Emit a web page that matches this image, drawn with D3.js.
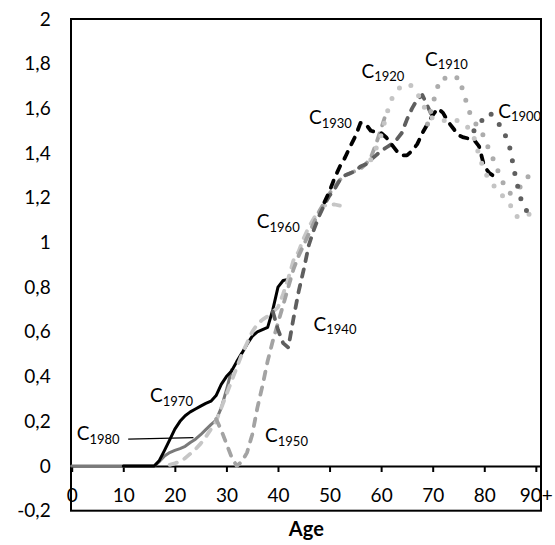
<!DOCTYPE html>
<html>
<head>
<meta charset="utf-8">
<script src="https://cdn.jsdelivr.net/npm/d3@7"></script>
<style>
  html, body { margin: 0; padding: 0; background: #fff; }
  svg { display: block; font-family: Lato, "Open Sans", sans-serif; }
</style>
</head>
<body>
<svg id="chart" width="555" height="545"></svg>
<script>
// ---------------- data ----------------
const xTicks = [0, 10, 20, 30, 40, 50, 60, 70, 80, 90];
const xTickLabels = ["0", "10", "20", "30", "40", "50", "60", "70", "80", "90+"];
const yTicks = [-0.2, 0, 0.2, 0.4, 0.6, 0.8, 1, 1.2, 1.4, 1.6, 1.8, 2];
const yTickLabels = ["-0,2", "0", "0,2", "0,4", "0,6", "0,8", "1", "1,2", "1,4", "1,6", "1,8", "2"];

const cohortNames = ["C1980", "C1970", "C1960", "C1950", "C1940", "C1930", "C1920", "C1910", "C1900"];
const cohortYears = ["1980", "1970", "1960", "1950", "1940", "1930", "1920", "1910", "1900"];
const startAges = [0, 10, 19, 28, 39, 49, 58, 69, 78];

const v1980 = [0,0,0,0,0,0,0,0,0,0,0,0,0,0,0,0,0, 0.02,0.045,0.06,0.07,0.078,0.088,0.105,0.12,0.14,0.163,0.185,0.205,0.26,0.34,0.43];
const v1970 = [0,0,0,0,0,0,0, 0.025,0.07,0.117,0.165,0.2,0.225,0.242,0.255,0.268,0.28,0.29,0.315,0.365,0.40,0.425,0.467,0.505,0.545,0.58,0.60,0.61,0.62,0.70,0.80,0.83,0.835];
const v1960 = [0.005,0.012,0.02,0.035,0.055,0.075,0.1,0.13,0.165,0.2,0.26,0.32,0.38,0.44,0.5,0.55,0.6,0.635,0.655,0.67,0.69,0.71,0.77,0.84,0.92,0.96,1.02,1.07,1.11,1.14,1.165,1.17,1.17,1.165];
const v1950 = [0.21,0.16,0.1,0.04,0,0.02,0.06,0.14,0.26,0.36,0.47,0.56,0.64,0.72,0.80,0.88,0.94,0.99,1.04,1.09,1.14,1.18,1.22,1.25,1.28,1.30,1.31,1.32,1.33,1.35,1.38,1.44,1.51,1.58];
const v1940 = [0.69,0.61,0.55,0.53,0.66,0.78,0.88,0.99,1.06,1.12,1.17,1.21,1.24,1.28,1.30,1.31,1.32,1.34,1.35,1.37,1.39,1.41,1.425,1.44,1.46,1.49,1.55,1.60,1.64,1.66,1.61,1.56];
const v1930 = [1.18,1.23,1.29,1.34,1.38,1.43,1.475,1.535,1.53,1.50,1.495,1.49,1.47,1.44,1.41,1.39,1.39,1.41,1.44,1.49,1.53,1.57,1.60,1.58,1.54,1.51,1.48,1.47,1.465,1.46,1.43,1.34,1.31,1.295];
const v1920 = [1.37,1.42,1.48,1.57,1.64,1.68,1.70,1.71,1.70,1.67,1.62,1.58,1.555,1.545,1.545,1.55,1.55,1.545,1.535,1.51,1.47,1.39,1.32,1.28,1.25,1.22,1.2,1.17,1.12,1.11,1.12,1.13,1.14];
const v1910 = [1.53,1.62,1.70,1.74,1.725,1.73,1.74,1.67,1.59,1.54,1.515,1.47,1.41,1.36,1.30,1.25,1.22,1.22,1.25,1.28,1.31];
const v1900 = [1.50,1.53,1.56,1.58,1.56,1.525,1.485,1.42,1.30,1.20,1.155,1.09];
const seriesValues = [v1980, v1970, v1960, v1950, v1940, v1930, v1920, v1910, v1900];

// ---------------- layout / styles ----------------
const W = 555, H = 545;
const plot = { left: 71.7, right: 541, top: 19, bottom: 510.7 };

const styles = [
  { color: "#7a7a7a", width: 3,   dash: null,      cap: "round" },  // 1980 solid gray
  { color: "#000000", width: 3,   dash: null,      cap: "round" },  // 1970 solid black
  { color: "#c6c6c6", width: 3.8, dash: "7.5 8.5", cap: "round" },  // 1960 light dashed
  { color: "#a3a3a3", width: 3.8, dash: "7.5 8.5", cap: "round" },  // 1950 mid dashed
  { color: "#5f5f5f", width: 3.8, dash: "7.5 8.5", cap: "round" },  // 1940 dark dashed
  { color: "#000000", width: 3.8, dash: "7.5 8.5", cap: "round" },  // 1930 black dashed
  { color: "#c4c4c4", width: 5,   dash: "0 13",    cap: "round" },  // 1920 light dotted
  { color: "#acacac", width: 5,   dash: "0 13",    cap: "round" },  // 1910 mid dotted
  { color: "#5f5f5f", width: 5,   dash: "0 13",    cap: "round" }   // 1900 dark dotted
];

// label anchors in data space (age, value) for the left edge / baseline of "C"
const labelAnchors = [
  [0.97, 0.116], [15.2, 0.286], [35.9, 1.063], [37.5, 0.107], [46.9, 0.606],
  [46.0, 1.530], [56.2, 1.738], [68.5, 1.790], [82.7, 1.559]
];
const leader1980 = [[10.95, 0.12], [23.6, 0.127]];

const svg = d3.select("#chart");
const x = d3.scaleLinear().domain([0, 91]).range([plot.left, plot.right]);
const y = d3.scaleLinear().domain([-0.2, 2]).range([plot.bottom, plot.top]);

// frame
svg.append("rect")
  .attr("x", 71).attr("y", plot.top)
  .attr("width", plot.right - 71).attr("height", plot.bottom - plot.top)
  .attr("fill", "none").attr("stroke", "#000").attr("stroke-width", 2);

// y axis labels
const yAxis = d3.axisLeft(y).tickValues(yTicks)
  .tickFormat((d, i) => yTickLabels[i]).tickSize(0).tickPadding(21);
const gy = svg.append("g").attr("transform", `translate(${plot.left},0)`).call(yAxis);
gy.select(".domain").remove();
gy.selectAll("text").attr("font-family", "Lato").attr("font-size", 19).attr("fill", "#000");

// x axis at y = 0
const xAxis = d3.axisBottom(x).tickValues(xTicks)
  .tickFormat((d, i) => xTickLabels[i]).tickSize(6).tickSizeOuter(0).tickPadding(17);
const gx = svg.append("g").attr("transform", `translate(0,${y(0)})`).call(xAxis);
gx.select(".domain").attr("stroke", "#000").attr("stroke-width", 2);
gx.selectAll(".tick line").attr("stroke", "#000").attr("stroke-width", 2);
gx.selectAll("text").attr("font-family", "Lato").attr("font-size", 19).attr("fill", "#000");

// axis title
svg.append("text")
  .attr("x", (plot.left + plot.right) / 2).attr("y", 536)
  .attr("text-anchor", "middle")
  .attr("font-family", "Lato").attr("font-weight", "bold").attr("font-size", 20)
  .text("Age");

// series
const line = d3.line().x(d => x(d[0])).y(d => y(d[1]));
seriesValues.forEach((vals, i) => {
  const pts = vals.map((v, k) => [startAges[i] + k, v]);
  const s = styles[i];
  svg.append("path")
    .attr("d", line(pts))
    .attr("fill", "none")
    .attr("stroke", s.color)
    .attr("stroke-width", s.width)
    .attr("stroke-linecap", s.cap)
    .attr("stroke-linejoin", "round")
    .attr("stroke-dasharray", s.dash);
});

// leader line for C1980
svg.append("line")
  .attr("x1", x(leader1980[0][0])).attr("y1", y(leader1980[0][1]))
  .attr("x2", x(leader1980[1][0])).attr("y2", y(leader1980[1][1]))
  .attr("stroke", "#000").attr("stroke-width", 1.2);

// labels
cohortYears.forEach((yr, i) => {
  const t = svg.append("text")
    .attr("x", x(labelAnchors[i][0])).attr("y", y(labelAnchors[i][1]))
    .attr("font-family", "Lato").attr("fill", "#000");
  t.append("tspan").attr("font-size", 19).text("C");
  t.append("tspan").attr("font-size", 13).attr("dy", 3.5).text(yr);
});
</script>
</body>
</html>
